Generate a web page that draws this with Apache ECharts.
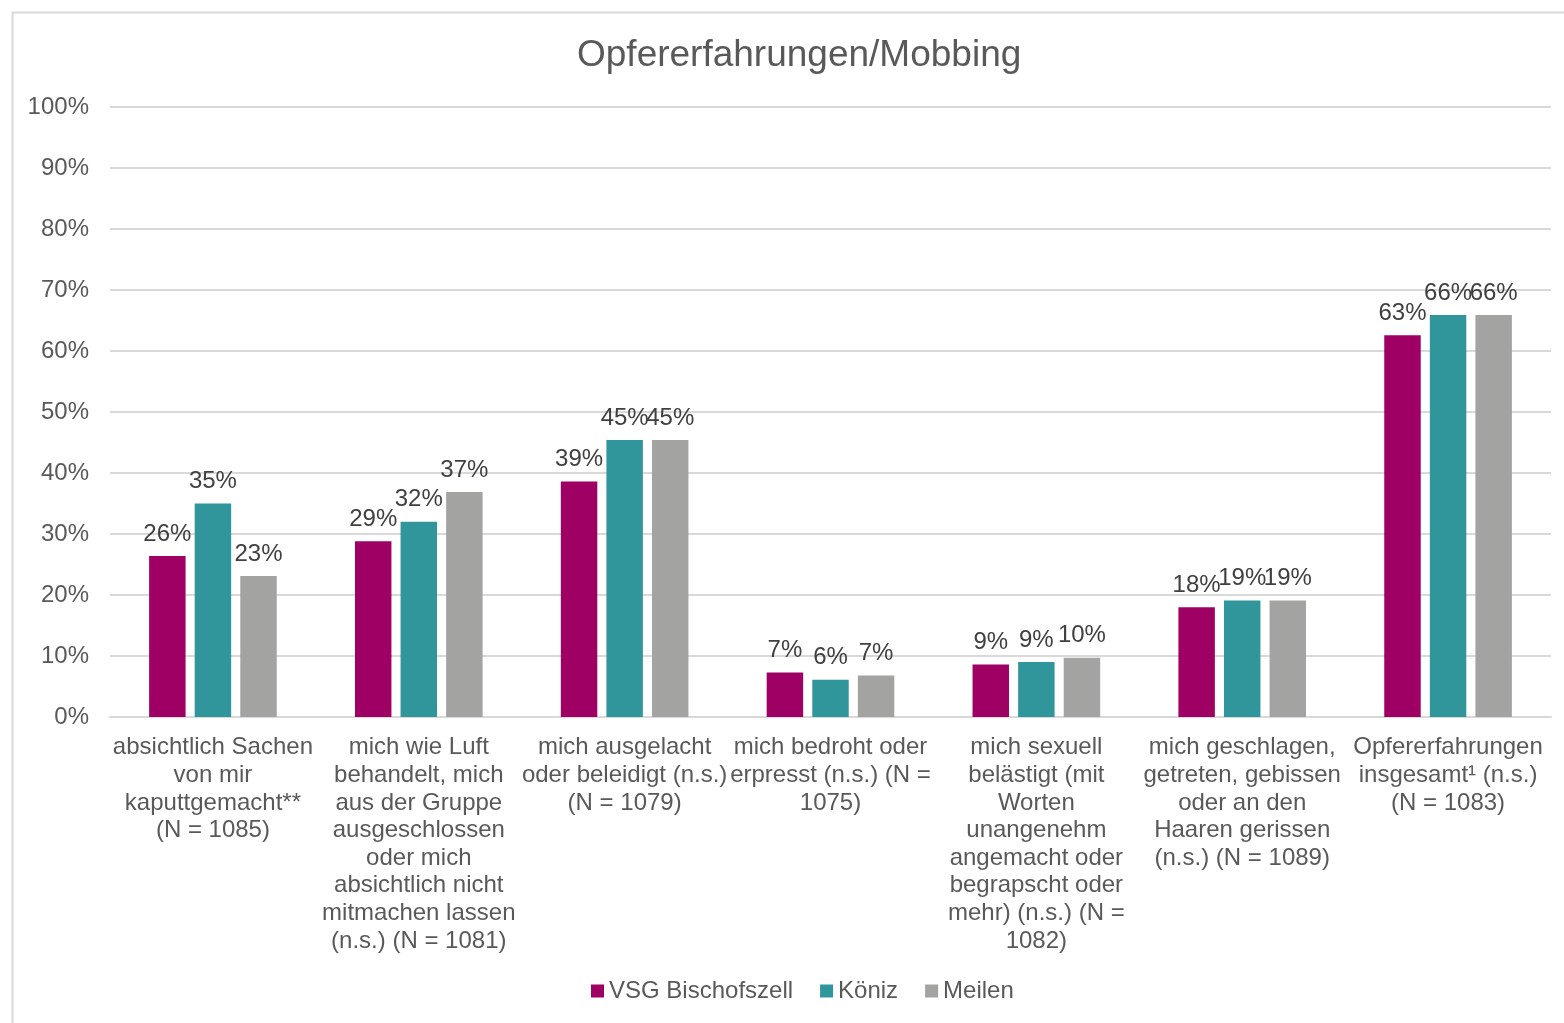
<!DOCTYPE html>
<html>
<head>
<meta charset="utf-8">
<title>Opfererfahrungen/Mobbing</title>
<script src="https://cdn.jsdelivr.net/npm/echarts@6/dist/echarts.min.js"></script>
<style>
  html, body { margin: 0; padding: 0; background: #fff; }
  #chart { width: 1564px; height: 1023px; }
</style>
</head>
<body>
<div id="chart"></div>
<script>
// categories (wrapped as in the original)
const categories = [
  'absichtlich Sachen\nvon mir\nkaputtgemacht**\n(N = 1085)',
  'mich wie Luft\nbehandelt, mich\naus der Gruppe\nausgeschlossen\noder mich\nabsichtlich nicht\nmitmachen lassen\n(n.s.) (N = 1081)',
  'mich ausgelacht\noder beleidigt (n.s.)\n(N = 1079)',
  'mich bedroht oder\nerpresst (n.s.) (N =\n1075)',
  'mich sexuell\nbelästigt (mit\nWorten\nunangenehm\nangemacht oder\nbegrapscht oder\nmehr) (n.s.) (N =\n1082)',
  'mich geschlagen,\ngetreten, gebissen\noder an den\nHaaren gerissen\n(n.s.) (N = 1089)',
  'Opfererfahrungen\ninsgesamt¹ (n.s.)\n(N = 1083)'
]

// values in %
const vsgBischofszell = [26.4, 28.8, 38.6, 7.3, 8.6, 18.0, 62.6]
const koeniz = [35.0, 32.0, 45.4, 6.1, 9.0, 19.1, 65.9]
const meilen = [23.1, 36.9, 45.4, 6.8, 9.7, 19.1, 65.9]

const seriesNames = ['VSG Bischofszell', 'Köniz', 'Meilen']
const colors = ['#9E0063', '#31969C', '#A3A3A2']

const font = '"Liberation Sans", Arial, sans-serif'

const chart = echarts.init(document.getElementById('chart'), null, { renderer: 'canvas' })

function makeSeries(name, data, color) {
  return {
    name: name,
    type: 'bar',
    data: data,
    itemStyle: { color: color },
    barGap: '25%',
    barCategoryGap: '38%',
    label: {
      show: true,
      position: 'top',
      distance: 10,
      formatter: p => Math.round(p.value) + '%',
      color: '#404040',
      fontSize: 24,
      fontFamily: font
    },
    animation: false
  }
}

chart.setOption({
  backgroundColor: '#fff',
  animation: false,
  textStyle: { fontFamily: font },
  title: {
    text: 'Opfererfahrungen/Mobbing',
    left: 572,
    top: 32,
    textStyle: {
      color: '#595959',
      fontSize: 37,
      fontWeight: 'normal',
      fontFamily: font
    }
  },
  graphic: [{
    type: 'rect',
    left: 10,
    top: 10,
    shape: { width: 1600, height: 1100 },
    style: { fill: 'none', stroke: '#D9D9D9', lineWidth: 2 },
    silent: true
  }],
  legend: {
    data: seriesNames,
    bottom: 15,
    left: 586,
    icon: 'rect',
    itemWidth: 13,
    itemHeight: 13,
    itemGap: 27,
    textStyle: {
      color: '#595959',
      fontSize: 24,
      fontFamily: font
    }
  },
  grid: {
    left: 110,
    right: 13,
    top: 107,
    bottom: 306,
    containLabel: false
  },
  xAxis: {
    type: 'category',
    data: categories,
    axisTick: { show: false },
    axisLine: { lineStyle: { color: '#D9D9D9', width: 2 } },
    axisLabel: {
      interval: 0,
      margin: 17,
      color: '#595959',
      fontSize: 24,
      lineHeight: 27.6,
      fontFamily: font,
      align: 'center'
    }
  },
  yAxis: {
    type: 'value',
    min: 0,
    max: 100,
    interval: 10,
    axisLine: { show: false },
    axisTick: { show: false },
    splitLine: { lineStyle: { color: '#D9D9D9', width: 2 } },
    axisLabel: {
      formatter: '{value}%',
      margin: 21,
      color: '#595959',
      fontSize: 24,
      fontFamily: font
    }
  },
  series: [
    makeSeries(seriesNames[0], vsgBischofszell, colors[0]),
    makeSeries(seriesNames[1], koeniz, colors[1]),
    makeSeries(seriesNames[2], meilen, colors[2])
  ]
})
</script>
</body>
</html>
